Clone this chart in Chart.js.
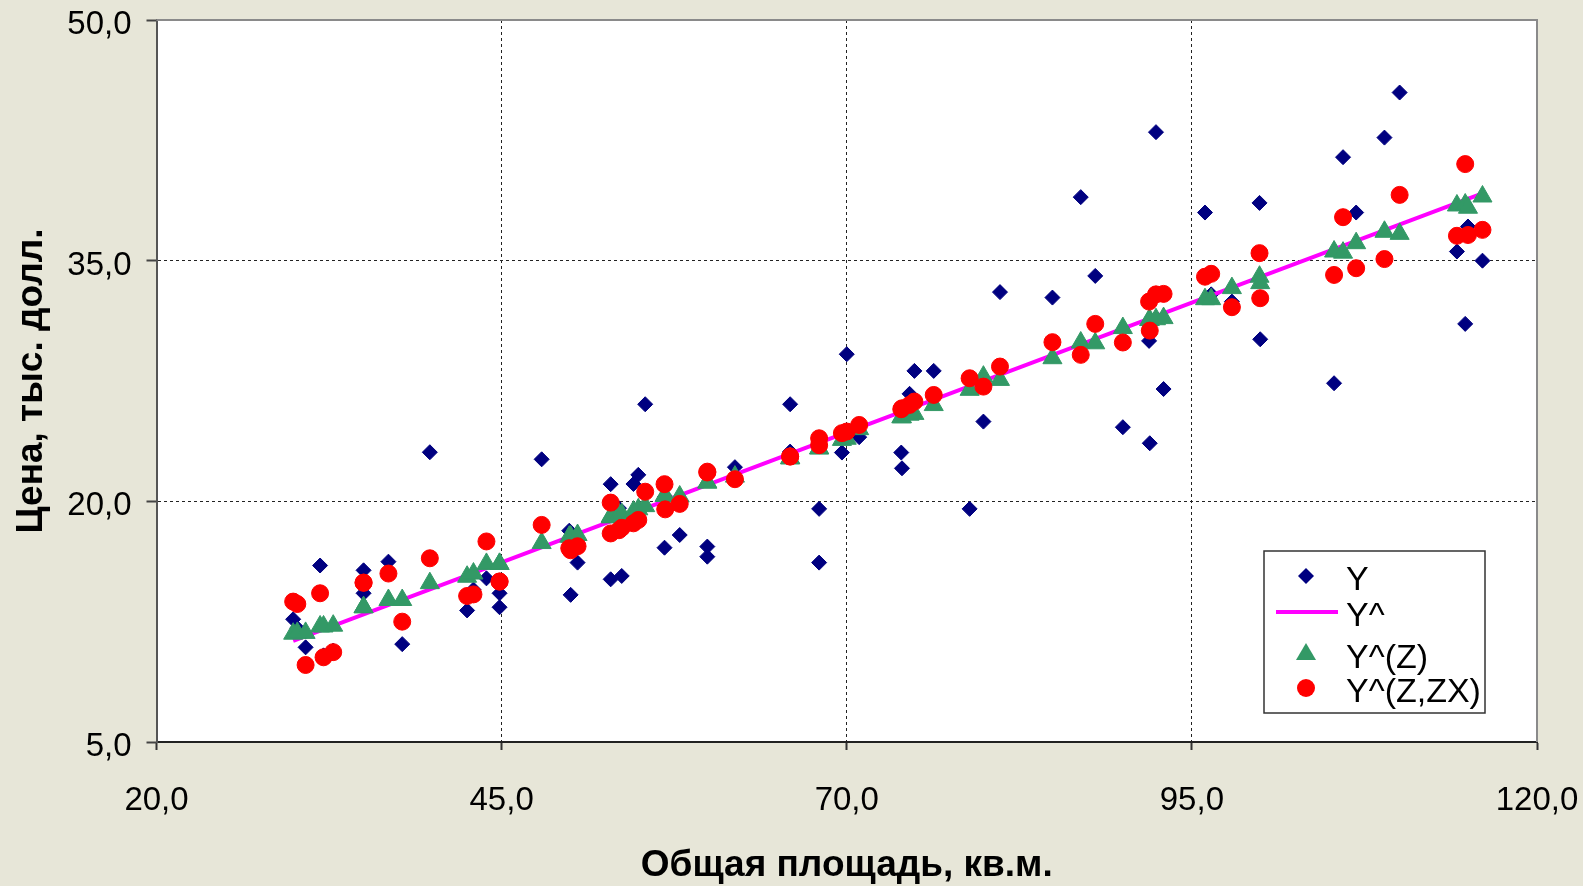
<!DOCTYPE html>
<html>
<head>
<meta charset="utf-8">
<script src="https://cdn.jsdelivr.net/npm/chart.js@4"></script>
<style>
	body { margin: 0; background: #e7e6d8; }
	#wrap { width: 1583px; height: 886px; }
</style>
</head>
<body>
<div id="wrap"><canvas id="chart" width="1583" height="886"></canvas></div>
<script>
// observations: total area (X) and price (Y) with the three fitted values
const area = [29.9, 30.2, 30.8, 31.85, 32.1, 32.8, 35.0, 35.0, 36.8, 37.8,
	39.8, 42.5, 42.96, 43.9, 44.85, 44.85, 47.9, 49.9, 50.0, 50.5,
	52.9, 52.9, 53.5, 53.7, 54.55, 54.9, 55.4, 56.8, 56.85, 57.9,
	59.9, 59.9, 61.9, 65.9, 65.9, 68.0, 68.0, 69.65, 70.0, 70.9,
	73.95, 74.0, 74.55, 74.9, 76.3, 78.9, 79.9, 81.1, 84.9, 86.95,
	88.0, 90.0, 91.9, 91.95, 92.4, 92.95, 95.95, 96.4, 97.9, 99.9,
	99.95, 105.3, 105.95, 106.9, 108.95, 110.05, 114.2, 114.8, 115.0, 116.05];

const price = [12.65, 12.1, 10.9, 16.0, 10.4, 10.7, 15.7, 14.27, 16.24, 11.1,
	23.06, 13.2, 14.5, 15.2, 14.27, 13.4, 22.62, 18.17, 14.17, 16.18,
	21.07, 15.14, 19.57, 15.35, 21.08, 21.65, 26.05, 17.11, 20.3, 17.9,
	17.18, 16.55, 22.13, 26.05, 23.1, 19.53, 16.18, 23.04, 29.17, 24.0,
	23.04, 22.06, 26.7, 28.13, 28.13, 19.53, 24.97, 33.04, 32.7, 38.96,
	34.05, 24.62, 30.0, 23.62, 43.01, 27.0, 38.0, 32.9, 32.45, 38.6,
	30.1, 27.36, 41.45, 38.0, 42.67, 45.48, 35.57, 31.06, 37.13, 35.0];

const fitZ = [11.75, 11.8, 11.8, 12.2, 12.2, 12.25, 13.4, 13.4, 13.85, 13.85,
	14.9, 15.3, 15.5, 16.1, 16.1, 16.1, 17.4, 17.8, 17.8, 17.9,
	19.05, 19.0, 19.2, 19.2, 19.36, 19.5, 19.7, 20.34, 20.34, 20.3,
	21.17, 21.17, 21.54, 22.67, 22.7, 23.3, 23.3, 23.83, 23.9, 24.5,
	25.24, 25.24, 25.4, 25.45, 26.0, 26.95, 27.77, 27.57, 28.92, 29.9,
	29.85, 30.8, 31.3, 31.3, 31.35, 31.42, 32.6, 32.6, 33.29, 34.0,
	33.6, 35.57, 35.5, 36.09, 36.8, 36.67, 38.44, 38.5, 38.3, 39.0];

const fitZX = [13.75, 13.6, 9.8, 14.27, 10.28, 10.6, 14.93, 14.93, 15.5, 12.5,
	16.45, 14.1, 14.2, 17.5, 15.0, 15.0, 18.53, 17.08, 16.95, 17.2,
	19.92, 18.0, 18.2, 18.35, 18.63, 18.84, 20.6, 21.07, 19.5, 19.84,
	21.85, 21.8, 21.38, 22.79, 22.8, 23.93, 23.5, 24.25, 24.35, 24.76,
	25.74, 25.8, 26.01, 26.22, 26.63, 27.67, 27.15, 28.4, 29.92, 29.13,
	31.06, 29.9, 32.45, 30.64, 32.9, 32.93, 34.0, 34.18, 32.1, 35.47,
	32.66, 34.11, 37.71, 34.53, 35.1, 39.1, 36.55, 41.02, 36.6, 36.92];

// simple regression line Y^, read at its ends and middle
const lineArea = [29.9, 70.0, 116.05];
const lineFit = [11.3, 24.3, 39.2];

const xTickValues = [20, 45, 70, 95, 120];
const yTickValues = [5, 20, 35, 50];

const seriesNames = ['Y', 'Y^', 'Y^(Z)', 'Y^(Z,ZX)'];
const FONT = '"Liberation Sans", Arial, sans-serif';

function toPoints(xs, ys) {
	return xs.map((x, i) => ({x: x, y: ys[i]}));
}

function formatTick(value) {
	return value.toFixed(1).replace('.', ',');
}

// white plot area plus grey top/right frame
const plotFrame = {
	id: 'plotFrame',
	beforeDraw(chart) {
		const {ctx, chartArea: a} = chart;
		ctx.save();
		ctx.fillStyle = '#ffffff';
		ctx.fillRect(a.left, a.top, a.right - a.left, a.bottom - a.top);
		ctx.restore();
	},
	beforeDatasetsDraw(chart) {
		const {ctx, chartArea: a} = chart;
		ctx.save();
		ctx.strokeStyle = '#8a8a8a';
		ctx.lineWidth = 2;
		ctx.beginPath();
		ctx.moveTo(a.left, a.top);
		ctx.lineTo(a.right, a.top);
		ctx.lineTo(a.right, a.bottom);
		ctx.stroke();
		ctx.restore();
	}
};

// boxed legend in the lower right corner of the plot
const boxLegend = {
	id: 'boxLegend',
	afterDraw(chart) {
		const {ctx, chartArea: a} = chart;
		const w = 221, h = 162;
		const left = a.right - 52 - w;
		const top = a.bottom - 29 - h;
		ctx.save();
		ctx.fillStyle = '#ffffff';
		ctx.fillRect(left, top, w, h);
		ctx.strokeStyle = '#333';
		ctx.lineWidth = 1.5;
		ctx.strokeRect(left, top, w, h);

		const mx = left + 42;
		const rows = [25, 61, 103, 137];
		const ds = chart.data.datasets;

		// Y: diamond
		let y = top + rows[0];
		ctx.fillStyle = ds[0].backgroundColor;
		ctx.beginPath();
		ctx.moveTo(mx, y - 8); ctx.lineTo(mx + 8, y); ctx.lineTo(mx, y + 8); ctx.lineTo(mx - 8, y);
		ctx.closePath();
		ctx.fill();

		// Y^: line
		y = top + rows[1];
		ctx.strokeStyle = ds[1].borderColor;
		ctx.lineWidth = 4;
		ctx.beginPath();
		ctx.moveTo(left + 12, y); ctx.lineTo(left + 74, y);
		ctx.stroke();

		// Y^(Z): triangle
		y = top + rows[2];
		ctx.fillStyle = ds[2].backgroundColor;
		ctx.beginPath();
		ctx.moveTo(mx, y - 11); ctx.lineTo(mx + 10, y + 6); ctx.lineTo(mx - 10, y + 6);
		ctx.closePath();
		ctx.fill();

		// Y^(Z,ZX): circle
		y = top + rows[3];
		ctx.fillStyle = ds[3].backgroundColor;
		ctx.beginPath();
		ctx.arc(mx, y, 9, 0, Math.PI * 2);
		ctx.fill();

		ctx.fillStyle = '#000';
		ctx.font = '34px ' + FONT;
		ctx.textBaseline = 'middle';
		ctx.textAlign = 'left';
		for (let i = 0; i < seriesNames.length; i++) {
			ctx.fillText(seriesNames[i], left + 82, top + rows[i] + 5);
		}
		ctx.restore();
	}
};

const ctx = document.getElementById('chart');
new Chart(ctx, {
	type: 'scatter',
	data: {
		datasets: [{
			label: seriesNames[0],
			data: toPoints(area, price),
			pointStyle: 'rectRot',
			pointRadius: 7.5,
			backgroundColor: '#000080',
			borderColor: '#000080',
			borderWidth: 1,
			order: 4,
		}, {
			label: seriesNames[1],
			type: 'line',
			data: toPoints(lineArea, lineFit),
			borderColor: '#ff00ff',
			borderWidth: 4,
			pointRadius: 0,
			fill: false,
			order: 3,
		}, {
			label: seriesNames[2],
			data: toPoints(area, fitZ),
			pointStyle: 'triangle',
			pointRadius: 11,
			backgroundColor: '#339966',
			borderColor: '#339966',
			borderWidth: 1,
			order: 2,
		}, {
			label: seriesNames[3],
			data: toPoints(area, fitZX),
			pointStyle: 'circle',
			pointRadius: 8.5,
			backgroundColor: '#ff0000',
			borderColor: '#ff0000',
			borderWidth: 1,
			order: 1,
		}]
	},
	options: {
		responsive: false,
		animation: false,
		devicePixelRatio: 1,
		layout: { padding: { top: 20, right: 46, left: 0, bottom: 0 } },
		plugins: {
			legend: { display: false },
			tooltip: { enabled: false },
		},
		scales: {
			x: {
				type: 'linear',
				min: 20,
				max: 120,
				afterBuildTicks: (scale) => { scale.ticks = xTickValues.map(v => ({value: v})); },
				afterFit: (scale) => {
					scale.height = 144;
					scale.paddingLeft = 0;
					scale.paddingRight = 0;
				},
				ticks: {
					callback: formatTick,
					color: '#000',
					font: { family: FONT, size: 33 },
					padding: 31,
					maxRotation: 0,
					autoSkip: false,
				},
				grid: { color: '#222', lineWidth: 1, tickLength: 8, tickColor: '#333', tickWidth: 2 },
				border: { color: '#222', width: 2, dash: [3, 3] },
				title: {
					display: true,
					text: 'Общая площадь, кв.м.',
					color: '#000',
					font: { family: FONT, size: 37, weight: 'bold' },
					padding: { top: 0, bottom: -2 },
				},
			},
			y: {
				type: 'linear',
				min: 5,
				max: 50,
				afterBuildTicks: (scale) => { scale.ticks = yTickValues.map(v => ({value: v})); },
				afterFit: (scale) => {
					scale.width = 156.5;
					scale.paddingTop = 0;
					scale.paddingBottom = 0;
				},
				ticks: {
					callback: formatTick,
					color: '#000',
					font: { family: FONT, size: 33 },
					padding: 15,
					labelOffset: 5,
				},
				grid: { color: '#222', lineWidth: 1, tickLength: 10, tickColor: '#444', tickWidth: 2 },
				border: { color: '#555', width: 2, dash: [3, 3] },
				title: {
					display: true,
					text: 'Цена, тыс. долл.',
					color: '#000',
					font: { family: FONT, size: 37, weight: 'bold' },
					padding: { top: 10, bottom: 0 },
				},
			}
		}
	},
	plugins: [plotFrame, boxLegend]
});
</script>
</body>
</html>
